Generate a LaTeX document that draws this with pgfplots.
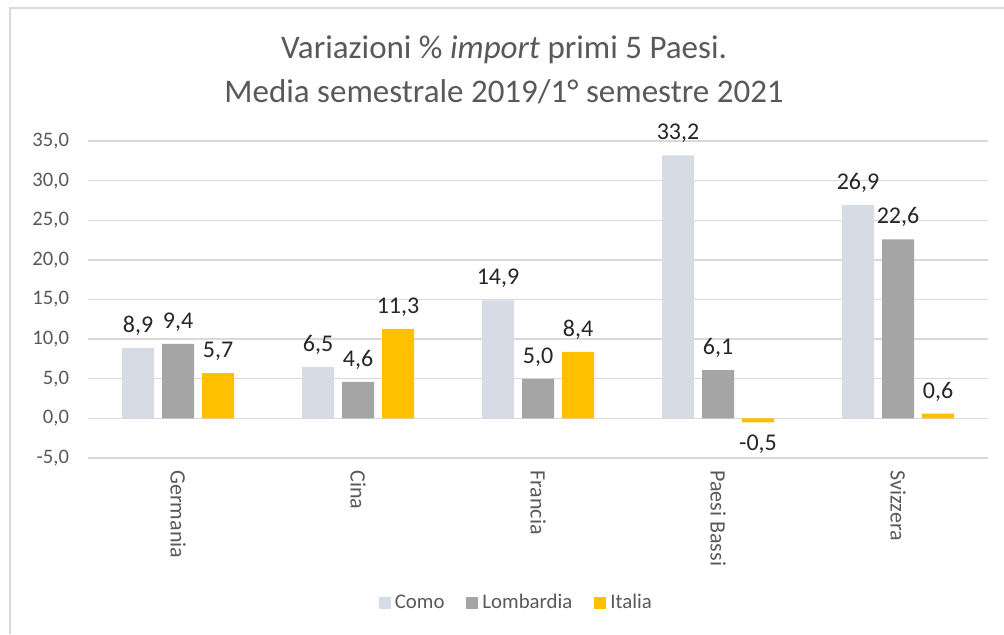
\documentclass[border=0pt]{standalone}
\usepackage{pgfplots}
\pgfplotsset{compat=1.18}
\usepackage{fontspec}
\setmainfont{Carlito}

\definecolor{como}{HTML}{D6DCE5}
\definecolor{lomb}{HTML}{A5A5A5}
\definecolor{ital}{HTML}{FFC000}
\definecolor{gridgrey}{HTML}{D9D9D9}
\definecolor{txtgrey}{HTML}{595959}

\begin{document}
\begin{tikzpicture}
\useasboundingbox (0,0) rectangle (502pt,317pt);
\fill[white] (0,0) rectangle (502pt,317pt);
% chart frame (only left and top edges are visible)
\draw[gridgrey, line width=1.3pt] (5pt,0) -- (5pt,313pt) -- (502pt,313pt);

\node[font=\fontsize{16.5}{22}\selectfont, text=txtgrey, align=center]
  at (252pt,282pt) {Variazioni \% \textit{import} primi 5 Paesi.\\Media semestrale 2019/1° semestre 2021};

\begin{axis}[%
width=450pt,
height=158.5pt,
scale only axis,
at={(44pt,88pt)},
anchor=south west,
ybar=4pt,
bar width=16pt,
xmin=-0.5, xmax=4.5,
ymin=-5, ymax=35,
ytick distance=5,
xtick=data,
xticklabels={Germania,Cina,Francia,Paesi Bassi,Svizzera},
axis line style={draw=none},
major tick length=0pt,
ymajorgrids,
grid style={gridgrey, line width=0.7pt},
/pgf/number format/.cd, fixed, fixed zerofill, precision=1, use comma, assume math mode=true,
/pgfplots/.cd,
yticklabel style={font=\fontsize{10.3}{11}\selectfont, text=txtgrey, xshift=-6pt},
xticklabel style={yshift=-6pt, rotate=-90, anchor=west, inner sep=0pt, font=\fontsize{11}{12}\selectfont, text=txtgrey},
nodes near coords,
every node near coord/.append style={font=\fontsize{12}{13}\selectfont, text=black!85, inner ysep=6pt},
legend columns=3,
legend style={at={(0.477,-0.457)}, anchor=center, draw=none, fill=none,
  font=\fontsize{10.4}{11}\selectfont, text=txtgrey,
  /tikz/every even column/.append style={column sep=9pt}},
legend image code/.code={\fill[#1, draw=none] (0pt,-3pt) rectangle (6pt,3pt);},
]
\addplot[fill=como, draw=none] coordinates {(0,8.9) (1,6.5) (2,14.9) (3,33.2) (4,26.9)};
\addlegendentry{Como}
\addplot[fill=lomb, draw=none] coordinates {(0,9.4) (1,4.6) (2,5.0) (3,6.1) (4,22.6)};
\addlegendentry{Lombardia}
\addplot[fill=ital, draw=none] coordinates {(0,5.7) (1,11.3) (2,8.4) (3,-0.5) (4,0.6)};
\addlegendentry{Italia}
\end{axis}
\end{tikzpicture}
\end{document}
